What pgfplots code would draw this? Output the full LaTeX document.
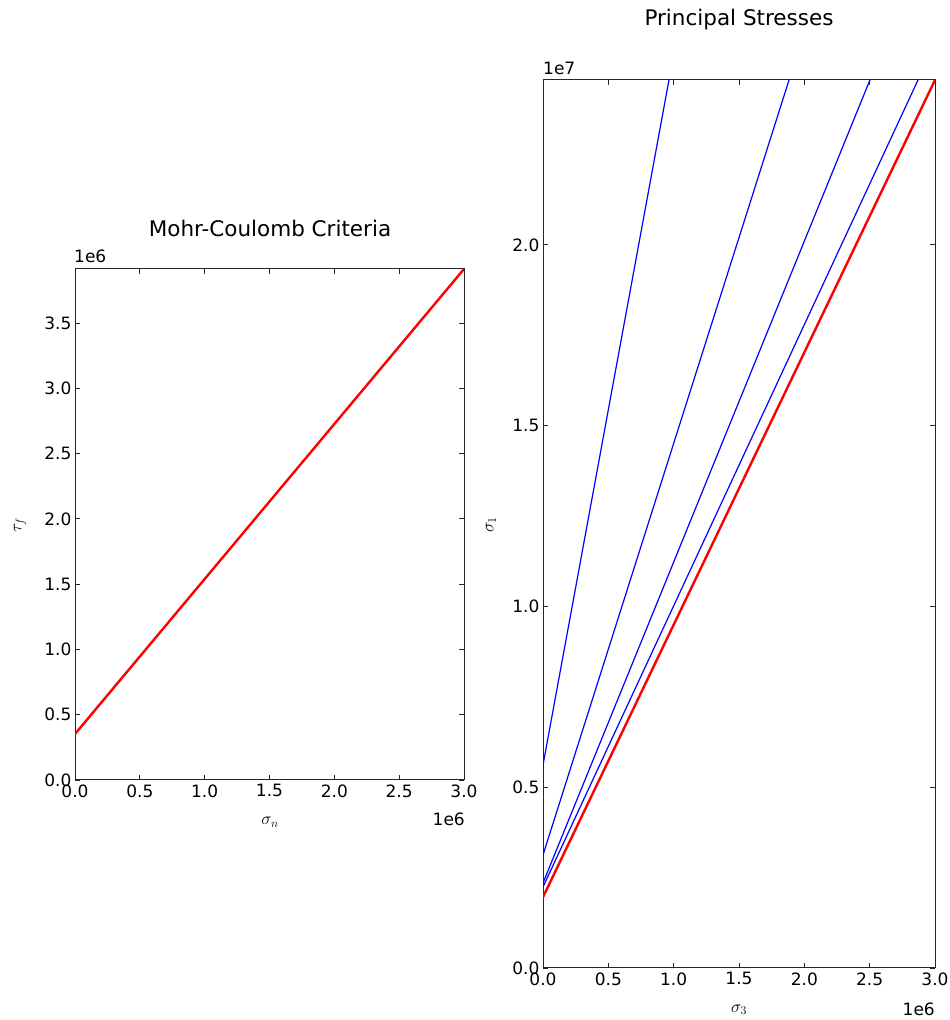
\documentclass[border=0pt]{standalone}
\usepackage{fontspec}
\setmainfont{DejaVu Sans}
\usepackage{pgfplots}
\pgfplotsset{compat=1.18}
\pgfplotsset{
  mpl/.style={
    scale only axis, anchor=south west,
    axis line style={line width=1pt, black!85},
    every tick/.style={black!85, line width=0.8pt},
    major tick length=5pt, tick align=inside,
    xtick pos=both, ytick pos=both,
    scaled ticks=false,
    xmin=0, xmax=3,
    xtick={0,0.5,1,1.5,2,2.5,3},
    xticklabels={0.0,0.5,1.0,1.5,2.0,2.5,3.0},
    /pgf/number format/assume math mode=true,
    tick label style={font=\fontsize{17}{20}\selectfont},
    xticklabel style={yshift=-1pt},
  }
}
\begin{document}
\begin{tikzpicture}[x=1pt,y=1pt, lab/.style={font=\fontsize{17}{20}\selectfont}, ttl/.style={font=\fontsize{21.5}{25}\selectfont}]
\path[use as bounding box] (0,0) rectangle (950,1020);

\begin{axis}[mpl, at={(75pt,240pt)}, width=389pt, height=511pt,
  ymin=0, ymax=3.913,
  ytick={0,0.5,1,1.5,2,2.5,3,3.5},
  yticklabels={0.0,0.5,1.0,1.5,2.0,2.5,3.0,3.5}]
\addplot[red, line width=2.4pt] coordinates {(0,0.352) (3,3.913)};
\end{axis}

\begin{axis}[mpl, at={(543pt,52pt)}, width=392pt, height=888pt,
  ymin=0, ymax=2.456,
  ytick={0,0.5,1,1.5,2},
  yticklabels={0.0,0.5,1.0,1.5,2.0}]
\addplot[blue, line width=1.2pt] coordinates {(0,0.5615) (0.964,2.456)};
\addplot[blue, line width=1.2pt] coordinates {(0,0.3126) (1.883,2.456)};
\addplot[blue, line width=1.2pt] coordinates {(0,0.235) (2.502,2.456)};
\addplot[blue, line width=1.2pt] coordinates {(0,0.224) (2.870,2.456)};
\addplot[red, line width=2.4pt] coordinates {(0,0.196) (3,2.456)};
\end{axis}

\node[ttl] at (270,792) {Mohr-Coulomb Criteria};
\node[ttl] at (739,1000) {Principal Stresses};
\node[lab, anchor=base west, inner sep=0pt] at (74,757) {1e6};
\node[lab, anchor=base east, inner sep=0pt] at (465,194) {1e6};
\node[lab, anchor=base west, inner sep=0pt] at (543,945) {1e7};
\node[lab, anchor=base east, inner sep=0pt] at (935,5) {1e6};
\node[lab, anchor=base, inner sep=0pt] at (270,195) {$\sigma_n$};
\node[lab, anchor=base, inner sep=0pt] at (739,8) {$\sigma_3$};
\node[lab, rotate=90, inner sep=0pt] at (20,495) {$\tau_f$};
\node[lab, rotate=90, inner sep=0pt] at (491,495) {$\sigma_1$};
\end{tikzpicture}
\end{document}
